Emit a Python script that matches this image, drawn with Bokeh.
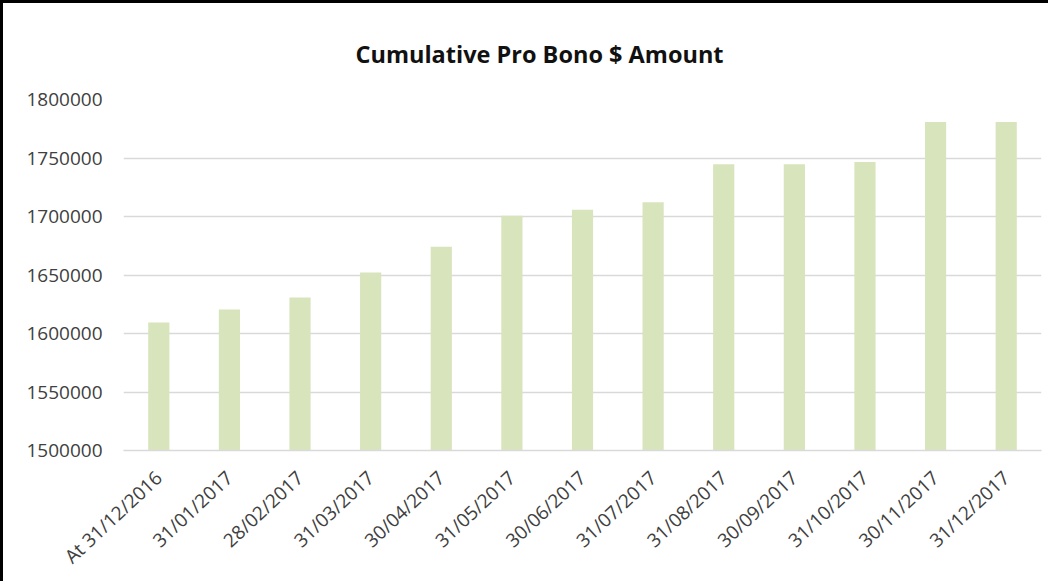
import math
from bokeh.plotting import figure
from bokeh.models import Range1d, SingleIntervalTicker, NumeralTickFormatter
from bokeh.embed import file_html
from bokeh.resources import INLINE

categories = ["At 31/12/2016", "31/01/2017", "28/02/2017", "31/03/2017", "30/04/2017",
              "31/05/2017", "30/06/2017", "31/07/2017", "31/08/2017", "30/09/2017",
              "31/10/2017", "30/11/2017", "31/12/2017"]
amounts = [1609400, 1620500, 1630800, 1652200, 1674200, 1700600, 1705700,
           1712200, 1744600, 1744600, 1746600, 1780800, 1780800]
y_min, y_max, y_step = 1500000, 1800000, 50000
title_text = "Cumulative Pro Bono $ Amount"

FONT = "Open Sans"
TXT = "#404040"

p = figure(x_range=categories, y_range=Range1d(y_min, y_max),
           width=1045, height=576,
           frame_width=918, frame_height=351,
           min_border_left=120, min_border_top=96, min_border_right=7, min_border_bottom=129,
           output_backend="svg", toolbar_location=None, title=title_text)
p.styles = {"border-left": "3px solid black", "border-top": "3px solid black"}

p.title.align = "left"
p.title.offset = 232
p.title.text_font = FONT
p.title.text_font_style = "bold"
p.title.text_font_size = "23.5px"
p.title.text_color = "#111111"
p.title.vertical_align = "bottom"
p.title.standoff = 60

p.vbar(x=categories, top=amounts, bottom=y_min, width=0.3,
       fill_color="#D8E4BC", line_color=None)

p.outline_line_color = None
p.xgrid.grid_line_color = None
p.ygrid.grid_line_color = "#D9D9D9"
p.ygrid.grid_line_width = 1.5

p.yaxis.ticker = SingleIntervalTicker(interval=y_step)
p.yaxis.formatter = NumeralTickFormatter(format="0")
p.yaxis.axis_line_color = None
p.yaxis.major_tick_line_color = None
p.yaxis.minor_tick_line_color = None
p.yaxis.major_label_standoff = 15
p.yaxis.major_label_text_font = FONT
p.yaxis.major_label_text_font_size = "19px"
p.yaxis.major_label_text_color = TXT

p.xaxis.axis_line_color = "#D9D9D9"
p.xaxis.axis_line_width = 1.5
p.xaxis.major_tick_line_color = None
p.xaxis.minor_tick_line_color = None
p.xaxis.major_label_orientation = math.radians(43)
p.xaxis.major_label_standoff = 18
p.xaxis.major_label_text_font = FONT
p.xaxis.major_label_text_font_size = "19px"
p.xaxis.major_label_text_color = TXT

open("out.html", "w").write(file_html(p, INLINE))
